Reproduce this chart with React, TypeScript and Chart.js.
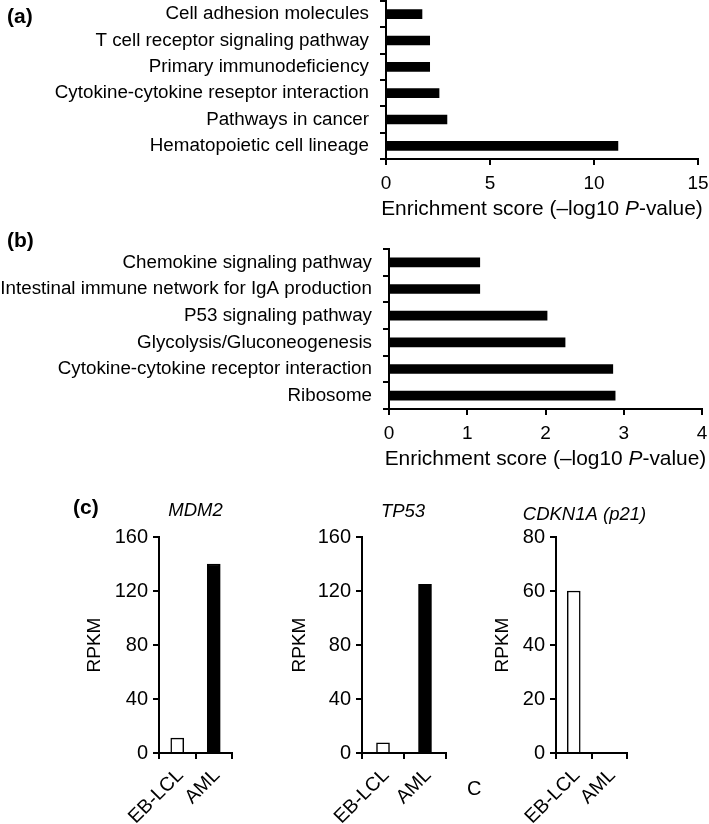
import React, { useEffect, useRef } from 'react';
import { Chart, registerables } from 'chart.js';

Chart.register(...registerables);

const FONT = "'Liberation Sans', Arial, Helvetica, sans-serif";

// ---- Data ----
const pathwaysA = [
  'Cell adhesion molecules',
  'T cell receptor signaling pathway',
  'Primary immunodeficiency',
  'Cytokine-cytokine reseptor interaction',
  'Pathways in cancer',
  'Hematopoietic cell lineage',
];
const scoresA = [1.73, 2.1, 2.1, 2.55, 2.93, 11.15];

const pathwaysB = [
  'Chemokine signaling pathway',
  'Intestinal immune network for IgA production',
  'P53 signaling pathway',
  'Glycolysis/Gluconeogenesis',
  'Cytokine-cytokine receptor interaction',
  'Ribosome',
];
const scoresB = [1.16, 1.16, 2.02, 2.25, 2.86, 2.89];

const groups = ['EB-LCL', 'AML'];
const mdm2Values = [11, 140];
const tp53Values = [7.5, 125];
const cdkn1aValues = [60, 0];

const axisTitleSegments = [
  { text: 'Enrichment score (\u2013log10 ', italic: false },
  { text: 'P', italic: true },
  { text: '-value)', italic: false },
];

// ---- Plugins ----
function makeRichTitle(segments: { text: string; italic: boolean }[], dy: number, size: number) {
  return {
    id: 'richTitle',
    afterDraw(chart: any) {
      const { ctx, chartArea } = chart;
      ctx.save();
      const parts = segments.map((s) => {
        ctx.font = `${s.italic ? 'italic ' : ''}${size}px ${FONT}`;
        return { ...s, w: ctx.measureText(s.text).width };
      });
      const total = parts.reduce((a, p) => a + p.w, 0);
      let x = (chartArea.left + chartArea.right) / 2 - total / 2;
      const y = chartArea.bottom + dy;
      ctx.fillStyle = '#000';
      ctx.textBaseline = 'middle';
      ctx.textAlign = 'left';
      parts.forEach((p) => {
        ctx.font = `${p.italic ? 'italic ' : ''}${size}px ${FONT}`;
        ctx.fillText(p.text, x, y);
        x += p.w;
      });
      ctx.restore();
    },
  };
}

function makeGeneTitle(text: string, dx: number, dy: number, size: number) {
  return {
    id: 'geneTitle',
    afterDraw(chart: any) {
      const { ctx, chartArea } = chart;
      ctx.save();
      ctx.font = `italic ${size}px ${FONT}`;
      ctx.fillStyle = '#000';
      ctx.textAlign = 'center';
      ctx.textBaseline = 'middle';
      ctx.fillText(text, (chartArea.left + chartArea.right) / 2 + dx, chartArea.top - dy);
      ctx.restore();
    },
  };
}

// ---- Config builders ----
const axisGrid = {
  display: true,
  drawOnChartArea: false,
  drawTicks: true,
  tickLength: 6,
  color: '#000',
  lineWidth: 2,
};
const axisBorder = { display: true, color: '#000', width: 2 };

function hbarConfig(
  labels: string[],
  values: number[],
  max: number,
  step: number,
  g: { yWidth: number; padTop: number; padRight: number; xHeight: number }
) {
  return {
    type: 'bar',
    data: {
      labels,
      datasets: [{ data: values, backgroundColor: '#000', borderWidth: 0, barThickness: 9 }],
    },
    options: {
      indexAxis: 'y',
      responsive: false,
      animation: false,
      layout: { padding: { top: g.padTop, right: g.padRight, left: 0, bottom: 0 } },
      plugins: { legend: { display: false }, tooltip: { enabled: false }, title: { display: false } },
      scales: {
        x: {
          type: 'linear',
          min: 0,
          max,
          ticks: { stepSize: step, color: '#000', font: { family: FONT, size: 19 }, padding: 7 },
          grid: { ...axisGrid },
          border: { ...axisBorder },
          afterFit: (s: any) => {
            s.height = g.xHeight;
            s.paddingLeft = 0;
            s.paddingRight = 0;
          },
        },
        y: {
          type: 'category',
          ticks: { color: '#000', font: { family: FONT, size: 18.8 }, padding: 11, autoSkip: false },
          grid: { ...axisGrid, offset: true },
          border: { ...axisBorder },
          afterFit: (s: any) => {
            s.width = g.yWidth;
            s.paddingTop = 0;
            s.paddingBottom = 0;
          },
        },
      },
    },
    plugins: [makeRichTitle(axisTitleSegments, 50, 20.9)],
  };
}

function vbarConfig(
  values: number[],
  max: number,
  step: number,
  title: string,
  g: { yWidth: number; padRight: number; rpkmPad: number; titleDx: number; titleDy: number }
) {
  return {
    type: 'bar',
    data: {
      labels: groups,
      datasets: [
        {
          data: values,
          backgroundColor: ['#ffffff', '#000000'],
          borderColor: '#000',
          borderWidth: 1.5,
          barThickness: 13,
        },
      ],
    },
    options: {
      responsive: false,
      animation: false,
      layout: { padding: { top: 57, right: g.padRight, left: 0, bottom: 0 } },
      plugins: { legend: { display: false }, tooltip: { enabled: false }, title: { display: false } },
      scales: {
        x: {
          type: 'category',
          ticks: {
            color: '#000',
            font: { family: FONT, size: 19.5 },
            minRotation: 45,
            maxRotation: 45,
            padding: 5,
            labelOffset: 3,
            autoSkip: false,
          },
          grid: { ...axisGrid, offset: true },
          border: { ...axisBorder },
          afterFit: (s: any) => {
            s.height = 71;
          },
        },
        y: {
          type: 'linear',
          min: 0,
          max,
          ticks: { stepSize: step, color: '#000', font: { family: FONT, size: 20 }, padding: 5 },
          grid: { ...axisGrid },
          border: { ...axisBorder },
          title: {
            display: true,
            text: 'RPKM',
            color: '#000',
            font: { family: FONT, size: 19 },
            padding: { top: g.rpkmPad, bottom: 0 },
          },
          afterFit: (s: any) => {
            s.width = g.yWidth;
          },
        },
      },
    },
    plugins: [makeGeneTitle(title, g.titleDx, g.titleDy, 18.5)],
  };
}

// ---- Components ----
function ChartCanvas({
  config,
  left,
  top,
  width,
  height,
}: {
  config: any;
  left: number;
  top: number;
  width: number;
  height: number;
}) {
  const ref = useRef<HTMLCanvasElement | null>(null);
  useEffect(() => {
    if (!ref.current) return;
    const chart = new Chart(ref.current, config);
    return () => chart.destroy();
  }, []);
  return (
    <canvas
      ref={ref}
      width={width}
      height={height}
      style={{ position: 'absolute', left, top, width, height }}
    />
  );
}

const labelStyle = (left: number, top: number, bold: boolean, size: number): React.CSSProperties => ({
  position: 'absolute',
  left,
  top,
  fontFamily: FONT,
  fontWeight: bold ? 'bold' : 'normal',
  fontSize: size,
  lineHeight: 1,
  color: '#000',
  whiteSpace: 'nowrap',
});

export default function App() {
  return (
    <div
      style={{
        position: 'absolute',
        left: 0,
        top: 0,
        width: 709,
        height: 824,
        background: '#fff',
        overflow: 'hidden',
      }}
    >
      <ChartCanvas
        left={0}
        top={0}
        width={709}
        height={230}
        config={hbarConfig(pathwaysA, scoresA, 15, 5, { yWidth: 386, padTop: 1, padRight: 11, xHeight: 71 })}
      />
      <ChartCanvas
        left={0}
        top={232}
        width={709}
        height={243}
        config={hbarConfig(pathwaysB, scoresB, 4, 1, { yWidth: 389, padTop: 17, padRight: 7, xHeight: 66 })}
      />
      <ChartCanvas
        left={80}
        top={480}
        width={180}
        height={344}
        config={vbarConfig(mdm2Values, 160, 40, 'MDM2', {
          yWidth: 79,
          padRight: 28,
          rpkmPad: 3.6,
          titleDx: 0,
          titleDy: 26,
        })}
      />
      <ChartCanvas
        left={270}
        top={480}
        width={190}
        height={344}
        config={vbarConfig(tp53Values, 160, 40, 'TP53', {
          yWidth: 92,
          padRight: 14,
          rpkmPad: 18.6,
          titleDx: -1,
          titleDy: 25,
        })}
      />
      <ChartCanvas
        left={480}
        top={480}
        width={200}
        height={344}
        config={vbarConfig(cdkn1aValues, 80, 20, 'CDKN1A (p21)', {
          yWidth: 76,
          padRight: 53,
          rpkmPad: 11.6,
          titleDx: -7,
          titleDy: 22,
        })}
      />
      <div style={labelStyle(7, 5, true, 21)}>(a)</div>
      <div style={labelStyle(7, 229, true, 21)}>(b)</div>
      <div style={labelStyle(73, 496, true, 21)}>(c)</div>
      <div style={labelStyle(467, 778, false, 20)}>C</div>
    </div>
  );
}
